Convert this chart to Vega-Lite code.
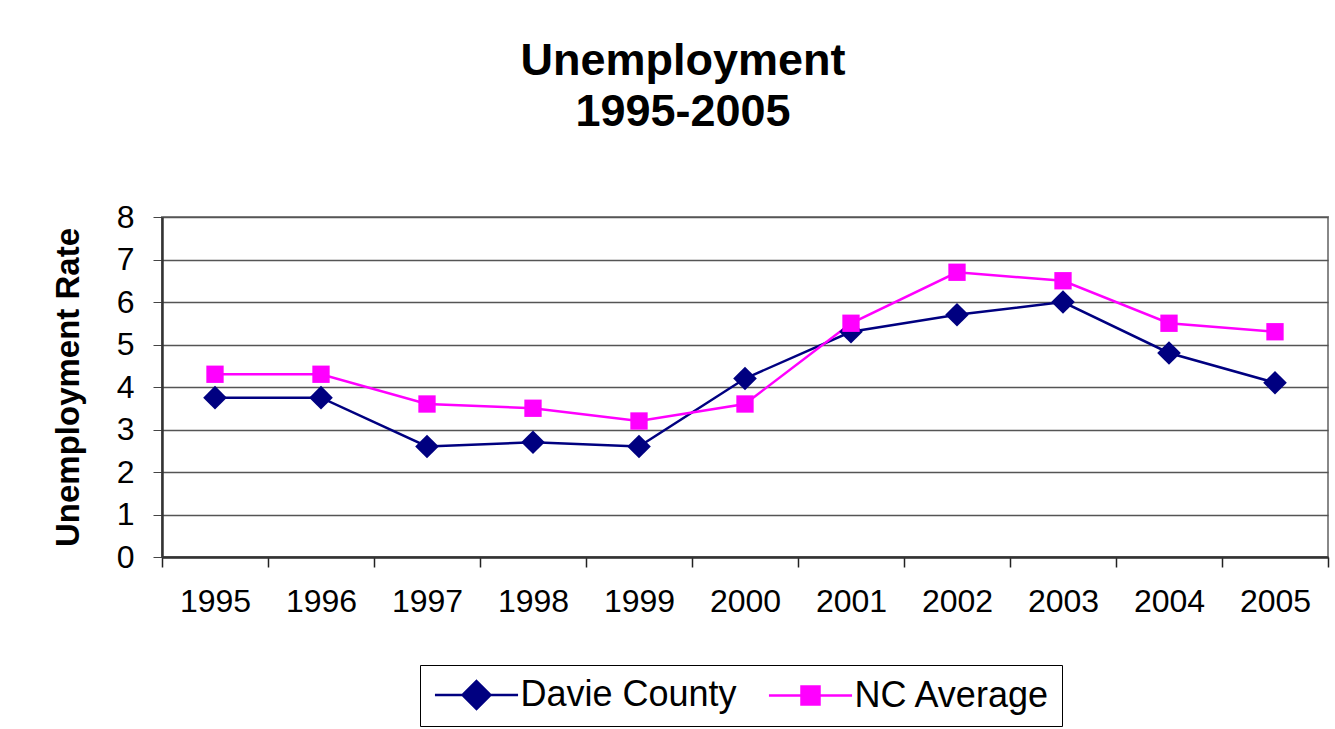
{
  "$schema": "https://vega.github.io/schema/vega-lite/v6.json",
  "width": 1166,
  "height": 340,
  "autosize": {"type": "none"},
  "padding": {"left": 162, "top": 217, "right": 7, "bottom": 172},
  "background": "white",
  "title": {
    "text": ["Unemployment", "1995-2005"],
    "font": "Liberation Sans",
    "fontSize": 45,
    "fontWeight": "bold",
    "color": "black",
    "lineHeight": 51,
    "anchor": "middle",
    "frame": "group",
    "dx": -62,
    "offset": 66
  },
  "data": {
    "values": [
      {"year": "1995", "series": "Davie County", "rate": 3.75},
      {"year": "1996", "series": "Davie County", "rate": 3.75},
      {"year": "1997", "series": "Davie County", "rate": 2.6},
      {"year": "1998", "series": "Davie County", "rate": 2.7},
      {"year": "1999", "series": "Davie County", "rate": 2.6},
      {"year": "2000", "series": "Davie County", "rate": 4.2},
      {"year": "2001", "series": "Davie County", "rate": 5.3},
      {"year": "2002", "series": "Davie County", "rate": 5.7},
      {"year": "2003", "series": "Davie County", "rate": 6.0},
      {"year": "2004", "series": "Davie County", "rate": 4.8},
      {"year": "2005", "series": "Davie County", "rate": 4.1},
      {"year": "1995", "series": "NC Average", "rate": 4.3},
      {"year": "1996", "series": "NC Average", "rate": 4.3},
      {"year": "1997", "series": "NC Average", "rate": 3.6},
      {"year": "1998", "series": "NC Average", "rate": 3.5},
      {"year": "1999", "series": "NC Average", "rate": 3.2},
      {"year": "2000", "series": "NC Average", "rate": 3.6},
      {"year": "2001", "series": "NC Average", "rate": 5.5},
      {"year": "2002", "series": "NC Average", "rate": 6.7},
      {"year": "2003", "series": "NC Average", "rate": 6.5},
      {"year": "2004", "series": "NC Average", "rate": 5.5},
      {"year": "2005", "series": "NC Average", "rate": 5.3}
    ]
  },
  "encoding": {
    "x": {
      "field": "year",
      "type": "ordinal",
      "scale": {"paddingInner": 0, "paddingOuter": 0},
      "axis": {
        "title": null,
        "labelAngle": 0,
        "labelFont": "Liberation Sans",
        "labelFontSize": 32,
        "labelColor": "black",
        "labelPadding": 19,
        "tickBand": "extent",
        "tickSize": 10,
        "tickColor": "#222",
        "tickWidth": 1.5,
        "domainColor": "#333",
        "domainWidth": 2.5,
        "grid": false
      }
    },
    "y": {
      "field": "rate",
      "type": "quantitative",
      "scale": {"domain": [0, 8], "nice": false},
      "axis": {
        "title": "Unemployment Rate",
        "titleFont": "Liberation Sans",
        "titleFontSize": 33,
        "titleFontWeight": "bold",
        "titleColor": "black",
        "titlePadding": 31,
        "values": [0, 1, 2, 3, 4, 5, 6, 7, 8],
        "labelFont": "Liberation Sans",
        "labelFontSize": 32,
        "labelColor": "black",
        "labelPadding": 19,
        "tickSize": 9,
        "tickColor": "#444",
        "domainColor": "#333",
        "domainWidth": 2.5,
        "gridColor": "#555",
        "gridWidth": 1.5,
        "gridOpacity": 1
      }
    },
    "color": {
      "field": "series",
      "type": "nominal",
      "scale": {"domain": ["Davie County", "NC Average"], "range": ["#000080", "#FF00FF"]},
      "legend": {
        "title": null,
        "orient": "none",
        "legendX": 258,
        "legendY": 448,
        "direction": "horizontal",
        "columns": 2,
        "strokeColor": "black",
        "fillColor": "white",
        "padding": 12,
        "columnPadding": 26,
        "labelFont": "Liberation Sans",
        "labelFontSize": 36,
        "labelColor": "black",
        "labelOffset": 26,
        "labelLimit": 0,
        "symbolSize": 900,
        "symbolOffset": 26.5,
        "symbolStrokeWidth": 2.5,
        "encode": {
          "symbols": {
            "update": {
              "shape": {"signal": "datum.value === 'Davie County' ? 'M-2.77,0H2.77M0,-0.93L0.93,0L0,0.93L-0.93,0Z' : 'M-2.77,0H2.77M-0.6,-0.6H0.6V0.6H-0.6Z'"},
              "fill": {"signal": "scale('color', datum.value)"},
              "stroke": {"signal": "scale('color', datum.value)"},
              "strokeWidth": {"value": 2.5},
              "opacity": {"value": 1}
            }
          }
        }
      }
    }
  },
  "layer": [
    {"mark": {"type": "line", "strokeWidth": 2.5}},
    {
      "transform": [{"filter": "datum.series === 'Davie County'"}],
      "mark": {"type": "point", "filled": true, "opacity": 1, "shape": "diamond", "size": 560}
    },
    {
      "transform": [{"filter": "datum.series === 'NC Average'"}],
      "mark": {"type": "point", "filled": true, "opacity": 1, "shape": "square", "size": 300}
    }
  ],
  "config": {
    "view": {"stroke": "#888", "strokeWidth": 2}
  }
}
